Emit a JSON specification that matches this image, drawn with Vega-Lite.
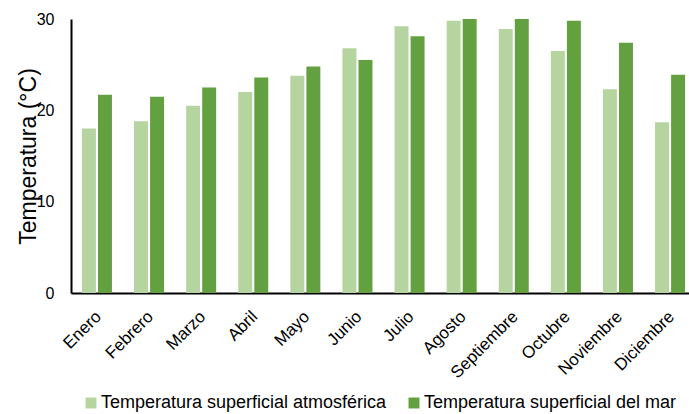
{
  "$schema": "https://vega.github.io/schema/vega-lite/v6.json",
  "width": 625,
  "height": 274,
  "autosize": {"type": "none"},
  "padding": {"left": 71, "top": 19, "right": 0, "bottom": 121},
  "background": "white",
  "config": {
    "view": {"stroke": null},
    "font": "Liberation Sans",
    "axis": {"labelFont": "Liberation Sans", "titleFont": "Liberation Sans", "labelColor": "#000000", "titleColor": "#000000"},
    "legend": {"labelFont": "Liberation Sans"}
  },
  "data": {
    "values": [
      {"mes": "Enero", "serie": "Temperatura superficial atmosférica", "valor": 18.0},
      {"mes": "Enero", "serie": "Temperatura superficial del mar", "valor": 21.7},
      {"mes": "Febrero", "serie": "Temperatura superficial atmosférica", "valor": 18.8},
      {"mes": "Febrero", "serie": "Temperatura superficial del mar", "valor": 21.5},
      {"mes": "Marzo", "serie": "Temperatura superficial atmosférica", "valor": 20.5},
      {"mes": "Marzo", "serie": "Temperatura superficial del mar", "valor": 22.5},
      {"mes": "Abril", "serie": "Temperatura superficial atmosférica", "valor": 22.0},
      {"mes": "Abril", "serie": "Temperatura superficial del mar", "valor": 23.6},
      {"mes": "Mayo", "serie": "Temperatura superficial atmosférica", "valor": 23.8},
      {"mes": "Mayo", "serie": "Temperatura superficial del mar", "valor": 24.8},
      {"mes": "Junio", "serie": "Temperatura superficial atmosférica", "valor": 26.8},
      {"mes": "Junio", "serie": "Temperatura superficial del mar", "valor": 25.5},
      {"mes": "Julio", "serie": "Temperatura superficial atmosférica", "valor": 29.2},
      {"mes": "Julio", "serie": "Temperatura superficial del mar", "valor": 28.1},
      {"mes": "Agosto", "serie": "Temperatura superficial atmosférica", "valor": 29.8},
      {"mes": "Agosto", "serie": "Temperatura superficial del mar", "valor": 30.0},
      {"mes": "Septiembre", "serie": "Temperatura superficial atmosférica", "valor": 28.9},
      {"mes": "Septiembre", "serie": "Temperatura superficial del mar", "valor": 30.0},
      {"mes": "Octubre", "serie": "Temperatura superficial atmosférica", "valor": 26.5},
      {"mes": "Octubre", "serie": "Temperatura superficial del mar", "valor": 29.8},
      {"mes": "Noviembre", "serie": "Temperatura superficial atmosférica", "valor": 22.3},
      {"mes": "Noviembre", "serie": "Temperatura superficial del mar", "valor": 27.4},
      {"mes": "Diciembre", "serie": "Temperatura superficial atmosférica", "valor": 18.7},
      {"mes": "Diciembre", "serie": "Temperatura superficial del mar", "valor": 23.9}
    ]
  },
  "mark": {"type": "bar"},
  "encoding": {
    "x": {
      "field": "mes",
      "type": "nominal",
      "sort": null,
      "scale": {"paddingInner": 0.424, "paddingOuter": 0.21},
      "axis": {
        "title": null,
        "domainColor": "#000000",
        "domainWidth": 2,
        "ticks": false,
        "labelAngle": -45,
        "labelFontSize": 17,
        "labelPadding": 15,
        "labelOffset": -4
      }
    },
    "xOffset": {
      "field": "serie",
      "type": "nominal",
      "scale": {"paddingInner": 0.13}
    },
    "y": {
      "field": "valor",
      "type": "quantitative",
      "scale": {"domain": [0, 30], "nice": false},
      "axis": {
        "title": "Temperatura (°C)",
        "titleFontSize": 23,
        "titleFontWeight": "normal",
        "titleX": -36,
        "titleBaseline": "alphabetic",
        "values": [0, 10, 20, 30],
        "grid": false,
        "ticks": false,
        "domainColor": "#000000",
        "domainWidth": 2,
        "labelFontSize": 16,
        "labelPadding": 17
      }
    },
    "color": {
      "field": "serie",
      "type": "nominal",
      "scale": {"range": ["#b5d4a0", "#62a040"]},
      "legend": {
        "title": null,
        "orient": "none",
        "direction": "horizontal",
        "legendX": 11,
        "legendY": 375,
        "symbolType": "square",
        "symbolSize": 120,
        "symbolStrokeWidth": 0,
        "labelFontSize": 18,
        "labelOffset": 1,
        "columnPadding": 18,
        "labelLimit": 400
      }
    }
  }
}
